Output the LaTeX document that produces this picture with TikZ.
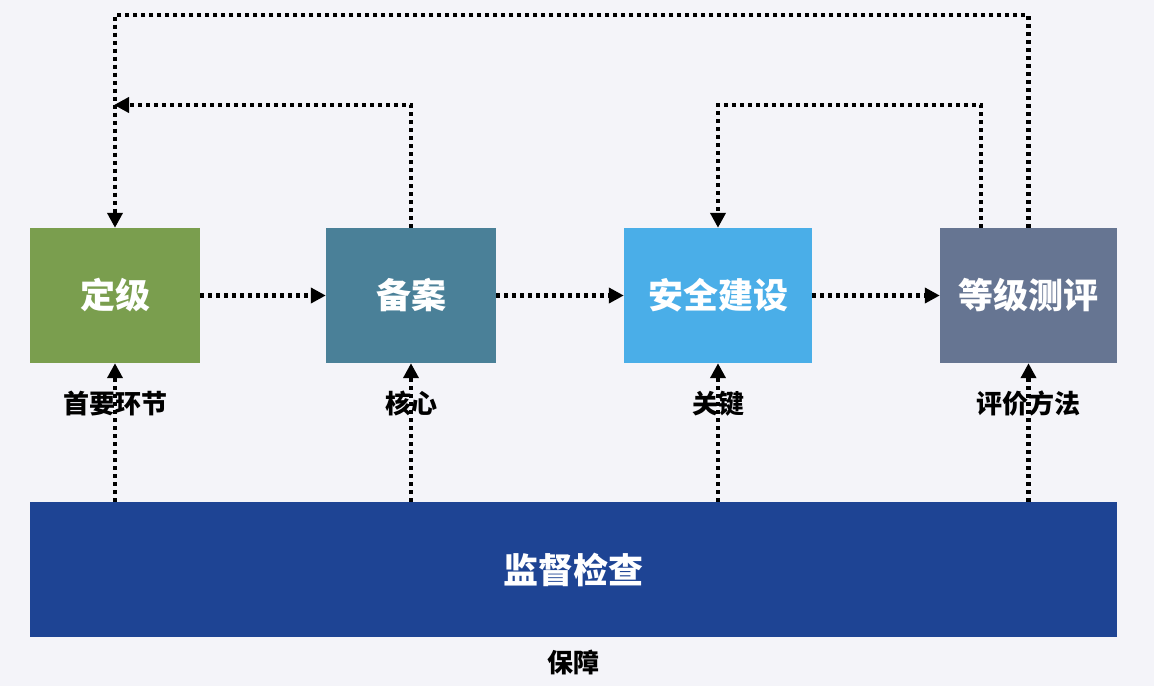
\documentclass[tikz,border=0pt]{standalone}
\usepackage{fontspec}
\setmainfont{Noto Sans CJK SC}
\usetikzlibrary{arrows.meta,positioning}
\definecolor{bgcol}{HTML}{F4F4F9}
\definecolor{cdj}{HTML}{7A9E4E}
\definecolor{cba}{HTML}{4A8098}
\definecolor{caq}{HTML}{4AAEE8}
\definecolor{cdc}{HTML}{667592}
\definecolor{cjd}{HTML}{1E4494}
\tikzset{
  stage/.style={text=white,font=\fontsize{35}{40}\selectfont\bfseries,minimum height=135pt,inner sep=0pt},
  flow/.style={line width=4.5pt,dash pattern=on 4pt off 4pt,-{Triangle[length=15pt,width=15pt]}},
  note/.style={font=\fontsize{26}{30}\selectfont\bfseries,text=black}
}
\begin{document}
\begin{tikzpicture}[x=1pt,y=-1pt]
          \fill[bgcol] (0,0) rectangle (1154,686);
          \node[stage,fill=cdj,minimum width=170pt] (dj) at (115,295.5) {定级};
          \node[stage,fill=cba,minimum width=170pt] (ba) at (411,295.5) {备案};
          \node[stage,fill=caq,minimum width=188pt] (aq) at (718,295.5) {安全建设};
          \node[stage,fill=cdc,minimum width=177pt] (dc) at (1028.5,295.5) {等级测评};
          \node[stage,fill=cjd,minimum width=1087pt] (jd) at (573.5,569.5) {监督检查};
          \node[note] (bz) at (573.5,662) {保障};
          \path[flow] (dj) edge (ba);
          \path[flow] (ba) edge (aq);
          \path[flow] (aq) edge (dc);
          \path[flow] (jd.north -| dj) edge node[note,pos=0.71]{首要环节} (dj);
          \path[flow] (jd.north -| ba) edge node[note,pos=0.71]{核心} (ba);
          \path[flow] (jd.north -| aq) edge node[note,pos=0.71]{关键} (aq);
          \path[flow] (jd.north -| dc) edge node[note,pos=0.71]{评价方法} (dc);
          \draw[flow] (dc.north) |- (dj.north |- 0,15) -- (dj.north);
          \draw[flow,shorten >=-1pt] (ba.north) |- (dj.north |- 0,105);
          \draw[flow] ([xshift=-47.5pt]dc.north) |- (aq.north |- 0,105) -- (aq.north);
        \end{tikzpicture}
\end{document}
